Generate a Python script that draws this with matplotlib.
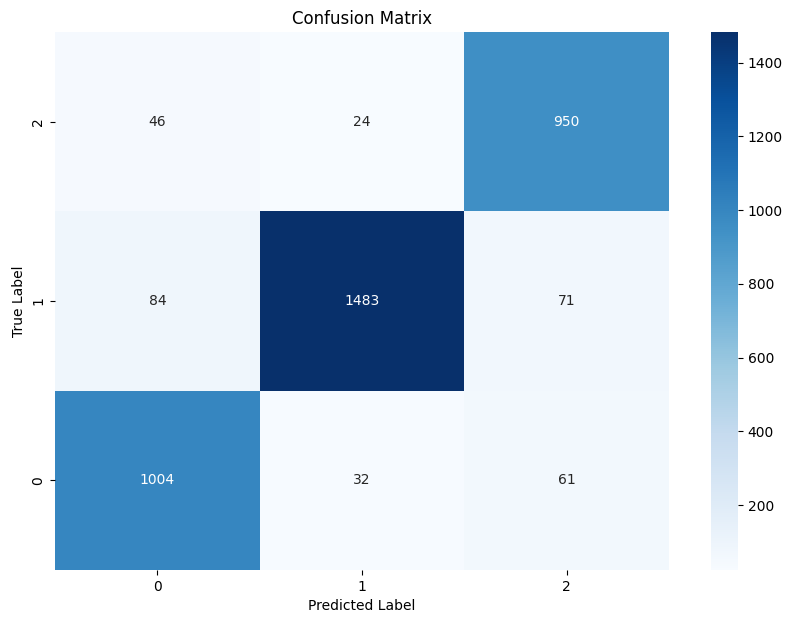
import matplotlib
matplotlib.use("Agg")
import matplotlib.pyplot as plt
import seaborn as sns
import numpy as np

row_labels = ["2", "1", "0"]
col_labels = ["0", "1", "2"]
values = [
    [46, 24, 950],
    [84, 1483, 71],
    [1004, 32, 61],
]

fig = plt.figure(figsize=(7.93, 6.24), dpi=100)
ax = fig.add_axes([55/793, 1-570/624, (669-55)/793, (570-32)/624])
cax = fig.add_axes([711/793, 1-570/624, 27/793, (570-32)/624])
sns.heatmap(np.array(values), annot=True, fmt="d", cmap="Blues",
            xticklabels=col_labels, yticklabels=row_labels, ax=ax, cbar_ax=cax)
ax.set_title("Confusion Matrix")
ax.set_xlabel("Predicted Label")
ax.set_ylabel("True Label")
fig.savefig("out.png", dpi=100)
